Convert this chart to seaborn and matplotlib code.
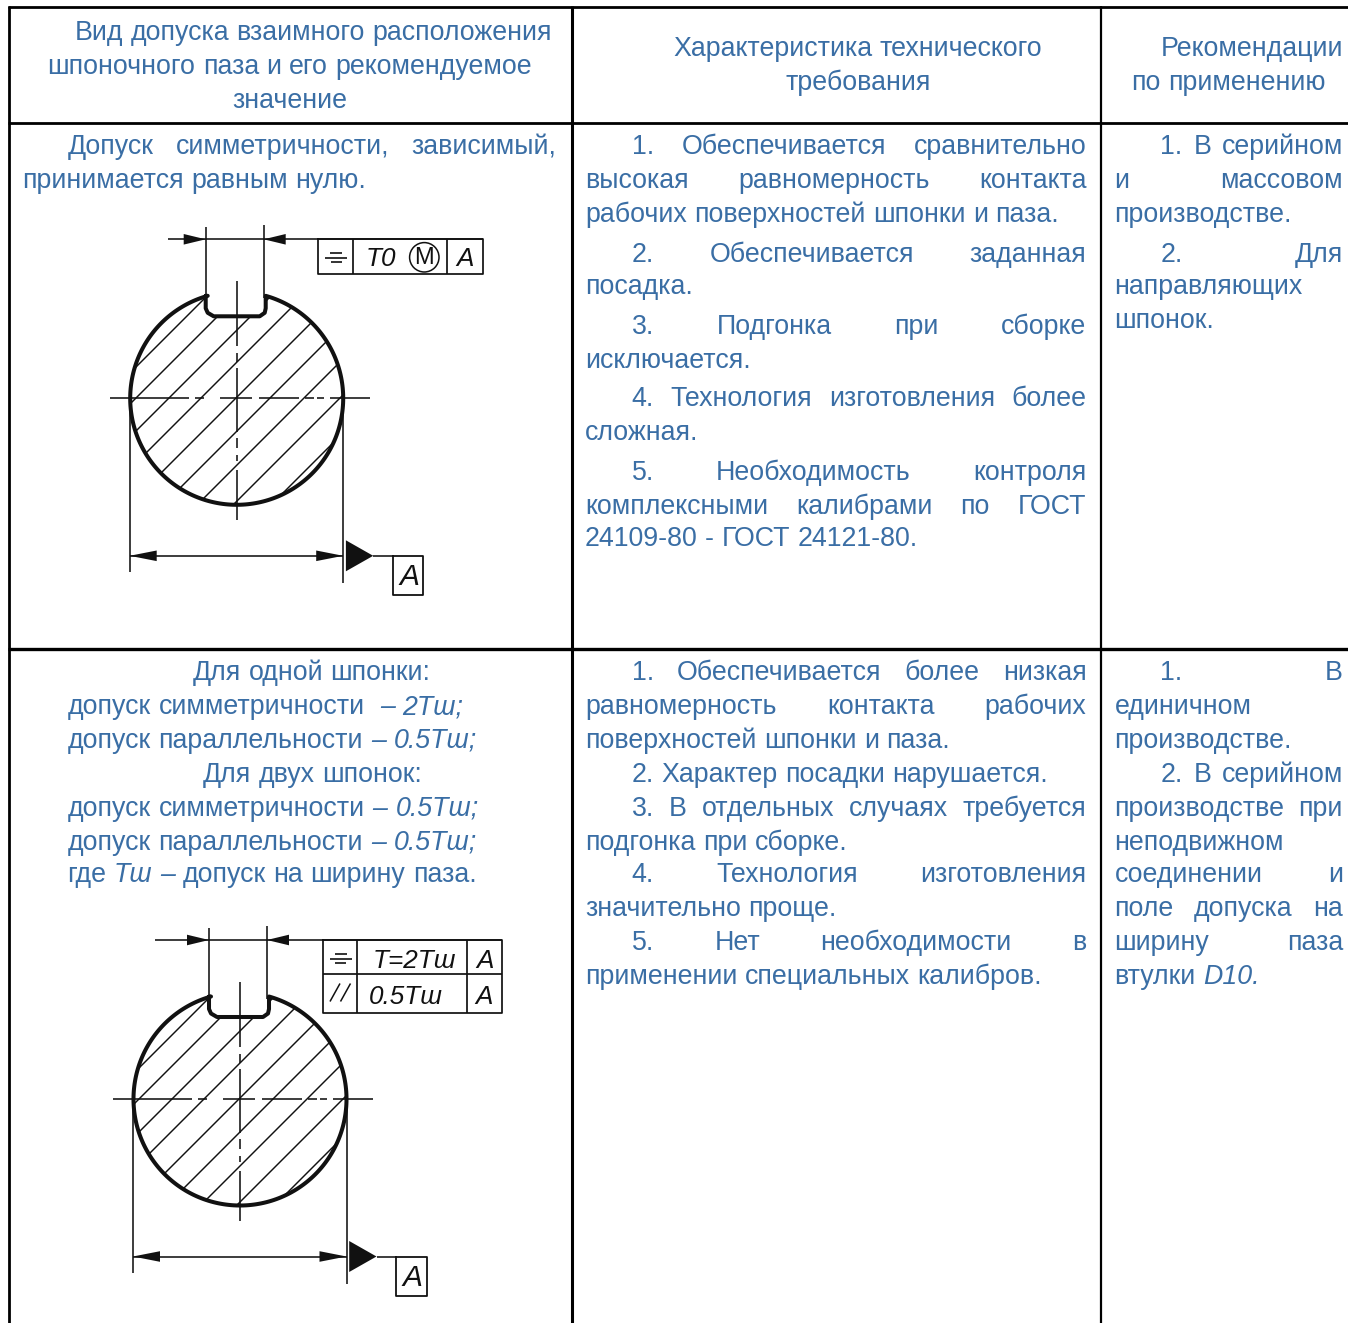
import numpy as np
import matplotlib
matplotlib.use("Agg")
import matplotlib.pyplot as plt
import seaborn as sns
from matplotlib.patches import Polygon, Circle

# ---------- content ----------
HEAD_1 = ["Вид допуска взаимного расположения", "шпоночного паза и его рекомендуемое", "значение"]
HEAD_2 = ["Характеристика технического", "требования"]
HEAD_3 = ["Рекомендации", "по применению"]
R1_C1 = ["Допуск симметричности, зависимый,", "принимается равным нулю."]
R1_C2 = ["1. Обеспечивается сравнительно", "высокая равномерность контакта",
         "рабочих поверхностей шпонки и паза.", "2. Обеспечивается заданная", "посадка.",
         "3. Подгонка при сборке", "исключается.", "4. Технология изготовления более", "сложная.",
         "5. Необходимость контроля", "комплексными калибрами по ГОСТ", "24109-80 - ГОСТ 24121-80."]
R1_C3 = ["1. В серийном", "и массовом", "производстве.", "2. Для", "направляющих", "шпонок."]
R2_C1 = ["Для одной шпонки:", "допуск симметричности  _– _2Тш;", "допуск параллельности _– _0.5Тш;",
         "Для двух шпонок:", "допуск симметричности _– _0.5Тш;", "допуск параллельности _– _0.5Тш;",
         "где _Тш _– допуск на ширину паза."]
R2_C2 = ["1. Обеспечивается более низкая", "равномерность контакта рабочих",
         "поверхностей шпонки и паза.", "2. Характер посадки нарушается.",
         "3. В отдельных случаях требуется", "подгонка при сборке.", "4. Технология изготовления",
         "значительно проще.", "5. Нет необходимости в", "применении специальных калибров."]
R2_C3 = ["1. В", "единичном", "производстве.", "2. В серийном", "производстве при", "неподвижном",
         "соединении и", "поле допуска на", "ширину паза", "втулки _D10."]
FRAME_1 = ["Т0", "M", "A"]
FRAME_2 = ["T=2Тш", "0.5Тш", "A"]
DATUM = "A"

TEXT_BLUE = "#3a6ea5"
FS = 19.3

# ---------- layout ----------
sns.set_theme(style="white")
plt.rcParams["font.family"] = ["Liberation Sans", "DejaVu Sans"]
fig = plt.figure(figsize=(13.48, 13.23), dpi=100, facecolor="white")
ax = fig.add_axes([0, 0, 1, 1])
ax.set_xlim(0, 1348)
ax.set_ylim(1323, 0)
ax.axis("off")
renderer = fig.canvas.get_renderer()


def word_w(s, italic=False):
    if not s:
        return 0.0
    t = ax.text(0, 0, s, fontsize=FS, style="italic" if italic else "normal")
    w = t.get_window_extent(renderer).width
    t.remove()
    return w


SPACE = word_w("a a") - word_w("aa")


def put(line, x0, x1, yc, mode):
    """mode: l left at x0, j justified x0..x1, c centred at x0"""
    words = [(w.lstrip("_"), w.startswith("_")) for w in line.split(" ")]
    ws = [word_w(w, i) for w, i in words]
    total = sum(ws)
    if mode == "j" and len(words) > 1:
        gap = (x1 - x0 - total) / (len(words) - 1)
    else:
        gap = SPACE
    x = x0
    if mode == "c":
        x = x0 - (total + gap * (len(words) - 1)) / 2
    for (w, it), wd in zip(words, ws):
        if w:
            ax.text(x, yc + 9.5, w, fontsize=FS, color=TEXT_BLUE, va="baseline", ha="left",
                    style="italic" if it else "normal")
        x += wd + gap


def column(lines, spec):
    for line, (x0, x1, y, mode) in zip(lines, spec):
        put(line, x0, x1, y, mode)


A, B, C = 585, 1086.5, 631.5
D, E, F = 1114.5, 1343, 1160.5
G = 67.5
column(HEAD_1, [(74.5, 0, 30, "l"), (47.5, 0, 64, "l"), (290, 0, 98, "c")])
column(HEAD_2, [(858, 0, 47, "c"), (858, 0, 81, "c")])
column(HEAD_3, [(F, 0, 47, "l"), (1131.5, 0, 81, "l")])
column(R1_C1, [(G, 556.5, 145, "j"), (22.5, 0, 179, "l")])
column(R1_C2, [(C, B, 145, "j"), (A, B, 179, "j"), (A, 0, 212, "l"), (C, B, 252, "j"), (A, 0, 285, "l"),
               (C, B, 324, "j"), (A, 0, 358, "l"), (C, B, 397, "j"), (A, 0, 431, "l"),
               (C, B, 470, "j"), (A, B, 504, "j"), (A, 0, 537, "l")])
column(R1_C3, [(F, E, 145, "j"), (D, E, 179, "j"), (D, 0, 212, "l"), (F, E, 252, "j"), (D, 0, 285, "l"), (D, 0, 319, "l")])
column(R2_C1, [(193, 0, 671, "l"), (G, 463.5, 705, "j"), (G, 476.5, 738, "j"), (203, 0, 772, "l"),
               (G, 478.5, 806, "j"), (G, 476.5, 840, "j"), (G, 476.5, 873, "j")])
column(R2_C2, [(C, B, 671, "j"), (A, B, 705, "j"), (A, 0, 738, "l"), (C, 0, 772, "l"), (C, B, 806, "j"),
               (A, 0, 840, "l"), (C, B, 873, "j"), (A, 0, 907, "l"), (C, B, 941, "j"), (A, 0, 974, "l")])
column(R2_C3, [(F, E, 671, "j"), (D, 0, 705, "l"), (D, 0, 738, "l"), (F, E, 772, "j"), (D, E, 806, "j"),
               (D, 0, 840, "l"), (D, E, 873, "j"), (D, E, 907, "j"), (D, E, 941, "j"), (D, 0, 974, "l")])

# table rules
for y, w in ((7.3, 2.0), (122.7, 2.0), (648.5, 2.4)):
    ax.plot([7.5, 1348], [y, y], color="black", lw=w, solid_capstyle="butt")
for x, w in ((8.7, 2.0), (571.5, 2.2), (1101, 1.6)):
    ax.plot([x, x], [6, 1323], color="black", lw=w, solid_capstyle="butt")

K = "#111111"
THIN = 1.15


def seg(xs, ys, lw=THIN, **kw):
    ax.plot(xs, ys, color=K, lw=lw, solid_capstyle="butt", **kw)


def arrow(tip_x, tip_y, dirn, length=22, half=5.3):
    ax.fill([tip_x, tip_x - dirn * length, tip_x - dirn * length],
            [tip_y, tip_y - half, tip_y + half], color=K, lw=0)


def itxt(x, y, s, size=18.8, style="italic"):
    ax.text(x, y, s, fontsize=size, style=style, color=K, ha="center", va="center")


def shaft(cx, cy, left_reach, hline_end):
    R = 106.5
    kx = 29.0
    # section outline: circle with keyway
    a0 = np.arcsin(kx / R)
    th = np.linspace(a0, 2 * np.pi - a0, 240)
    arc = np.column_stack([cx + R * np.sin(th), cy - R * np.cos(th)])
    key = np.array([[cx - kx - 2, cy - R * np.cos(a0)], [cx - kx - 2, cy - 90], [cx - kx, cy - 85.5],
                    [cx - kx + 6, cy - 82], [cx + kx - 6, cy - 82], [cx + kx - 1, cy - 85.5],
                    [cx + kx, cy - 90], [cx + kx, cy - R * np.cos(a0)]])
    outline = np.vstack([arc, key])
    clip = Polygon(outline, closed=True, transform=ax.transData, fill=False, lw=0)
    ax.add_patch(clip)
    for off in (-132, -101, -68, -36, -1, 33, 67, 103, 141):
        ln, = ax.plot([cx - 130, cx + 130], [cy + off + 130, cy + off - 130], color=K, lw=1.05)
        ln.set_clip_path(clip)
    ax.add_patch(Polygon(outline, closed=True, fill=False, ec=K, lw=2.9, joinstyle="round"))

    # centre lines
    for a, b in ((-127, -48), (-42, -33), (-17, 15), (22, 62), (68, 77), (80, 87), (93, 133)):
        seg([cx + a, cx + b], [cy, cy])
    for a, b in ((-117, -52), (-45, -36), (-30, 34), (40, 50), (57, 63), (72, 122)):
        seg([cx, cx], [cy + a, cy + b])

    # top dimension
    xl, xr = cx - 31, cx + 27
    seg([xl, xl], [cy - 171, cy - 100])
    seg([xr, xr], [cy - 173, cy - 100])
    yd = cy - 159
    seg([cx - left_reach, hline_end], [yd, yd])
    arrow(xl, yd, 1)
    arrow(xr, yd, -1)

    # bottom dimension
    xL, xR = cx - R - 0.5, cx + R
    seg([xL, xL], [cy, cy + 174])
    seg([xR, xR], [cy, cy + 185])
    yb = cy + 157.5
    seg([xL, xR], [yb, yb])
    arrow(xL, yb, -1, 27)
    arrow(xR, yb, 1, 27)

    # datum
    ax.fill([xR + 2.7, xR + 2.7, xR + 30], [yb - 15.5, yb + 15.5, yb], color=K, lw=0)
    seg([xR + 30, xR + 49.5], [yb, yb])
    bx0, bx1 = xR + 49.5, xR + 80
    ax.plot([bx0, bx1, bx1, bx0, bx0], [yb, yb, yb + 39, yb + 39, yb], color=K, lw=1.3)
    itxt((bx0 + bx1) / 2 + 1, yb + 21.5, DATUM, size=21.5)


def sym(cx, cy):
    for w, dy in ((6, -4.5), (11, 0), (5.5, 4.5)):
        seg([cx - w, cx + w], [cy + dy, cy + dy], lw=1.2)


shaft(236.7, 398.3, 68.4, 483)
xs = (318.3, 353.3, 447.3, 482.7)
y0, y1 = 239, 274.3
ax.plot([xs[0], xs[3], xs[3], xs[0], xs[0]], [y0, y0, y1, y1, y0], color=K, lw=1.25)
for x in xs[1:3]:
    seg([x, x], [y0, y1], lw=1.25)
sym(336, 257.5)
itxt(381, 258.5, FRAME_1[0])
ax.add_patch(Circle((424.3, 257.3), 14.7, fill=False, ec=K, lw=1.1))
itxt(424.3, 258, FRAME_1[1], size=17, style="normal")
itxt(465, 258.5, FRAME_1[2])

shaft(240, 1099, 85, 501.5)
xs = (322.7, 357.3, 466.7, 501.6)
y0, ym, y1 = 940, 974.3, 1012.5
ax.plot([xs[0], xs[3], xs[3], xs[0], xs[0]], [y0, y0, y1, y1, y0], color=K, lw=1.25)
seg([xs[0], xs[3]], [ym, ym], lw=1.25)
for x in xs[1:3]:
    seg([x, x], [y0, y1], lw=1.25)
sym(340.5, 958.5)
seg([330, 340], [1001.5, 983.5], lw=1.1)
seg([340.5, 350.5], [1001.5, 983.5], lw=1.1)
itxt(414.3, 961, FRAME_2[0])
itxt(405.7, 996.5, FRAME_2[1])
itxt(485, 961.5, FRAME_2[2])
itxt(484, 996.5, FRAME_2[2])

fig.savefig("out.png", dpi=100, facecolor="white")
